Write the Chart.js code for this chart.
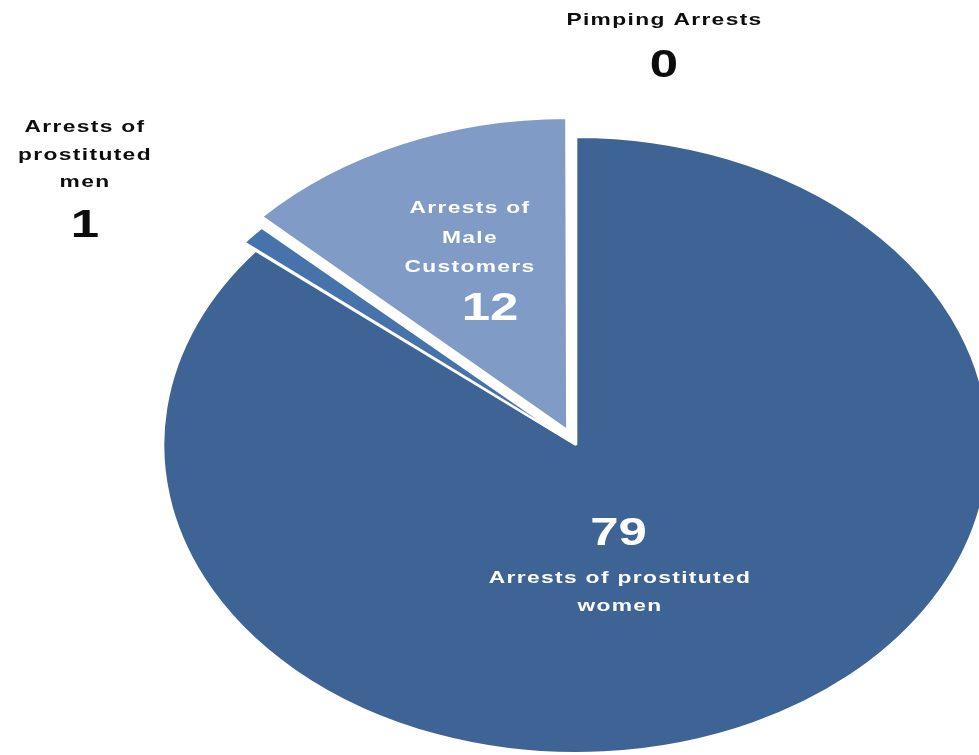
<!DOCTYPE html>
<html>
<head>
<meta charset="utf-8">
<script src="https://cdn.jsdelivr.net/npm/chart.js@4.4.0/dist/chart.umd.min.js"></script>
<style>
html,body{margin:0;padding:0;background:#ffffff;}
#wrap{width:979px;height:755px;}
</style>
</head>
<body>
<div id="wrap"><canvas id="c" width="979" height="755"></canvas></div>
<script>
// ---- data ----
const categories = [
  ["Arrests of prostituted", "women"],
  ["Arrests of", "prostituted", "men"],
  ["Arrests of", "Male", "Customers"],
  ["Pimping Arrests"]
];
const arrests = [79, 1, 12, 0];

// ---- styles ----
const sliceColors = ['#3D6494', '#4673AB', '#7F9BC6', '#7F9BC6'];
const sliceOffsets = [0, 24, 64, 0];
const STRETCH = 1.341;       // horizontal stretch of the whole picture
const labelLayout = [
  {color:'#ffffff', tdx:44,   tdy:138,  lh:28,   ndx:42.5, ndy:100},
  {color:'#0d0d0d', tdx:-491, tdy:-313, lh:27.5, ndx:-491, ndy:-208},
  {color:'#ffffff', tdx:-106, tdy:-232, lh:29.5, ndx:-86,  ndy:-125},
  {color:'#0d0d0d', tdx:88.5, tdy:-420, lh:28,   ndx:88,   ndy:-368}
];
const TEXT_FONT = 'bold 17px "Liberation Sans", Arial, sans-serif';
const NUM_FONT = 'bold 38px "Liberation Sans", Arial, sans-serif';

function drawStretched(ctx, text, x, y) {
  ctx.save();
  ctx.translate(x, y);
  ctx.scale(STRETCH, 1);
  ctx.fillText(text, 0, 0);
  ctx.restore();
}

const ellipsePlugin = {
  id: 'ellipse',
  beforeDatasetsDraw(chart) {
    const a = chart.getDatasetMeta(0).data[0];
    const ctx = chart.ctx;
    ctx.save();
    ctx.translate(a.x, a.y);
    ctx.scale(STRETCH, 1);
    ctx.translate(-a.x, -a.y);
  },
  afterDatasetsDraw(chart) {
    chart.ctx.restore();
  }
};

const labelPlugin = {
  id: 'sliceLabels',
  afterDraw(chart) {
    const meta = chart.getDatasetMeta(0);
    const cx = meta.data[0].x, cy = meta.data[0].y;
    const ctx = chart.ctx;
    const values = chart.data.datasets[0].data;
    chart.data.labels.forEach((lines, i) => {
      const L = labelLayout[i];
      ctx.save();
      ctx.fillStyle = L.color;
      ctx.textAlign = 'center';
      ctx.textBaseline = 'alphabetic';
      ctx.font = TEXT_FONT;
      ctx.letterSpacing = '1px';
      lines.forEach((t, j) => drawStretched(ctx, t, cx + L.tdx, cy + L.tdy + j * L.lh));
      ctx.font = NUM_FONT;
      ctx.letterSpacing = '0px';
      drawStretched(ctx, String(values[i]), cx + L.ndx, cy + L.ndy);
      ctx.restore();
    });
  }
};

new Chart(document.getElementById('c'), {
  type: 'pie',
  data: {
    labels: categories,
    datasets: [{
      data: arrests,
      backgroundColor: sliceColors,
      borderColor: '#ffffff',
      borderWidth: 2,
      offset: sliceOffsets,
      clip: false
    }]
  },
  options: {
    responsive: false,
    devicePixelRatio: 1,
    animation: false,
    events: [],
    radius: 308,
    layout: {padding: {left: 173, right: 0, top: 135, bottom: 0}},
    plugins: {legend: {display: false}, tooltip: {enabled: false}}
  },
  plugins: [ellipsePlugin, labelPlugin]
});
</script>
</body>
</html>
